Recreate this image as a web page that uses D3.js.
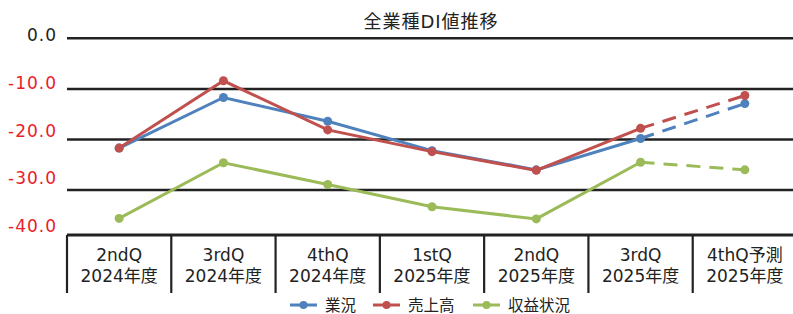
<!DOCTYPE html>
<html>
<head>
<meta charset="utf-8">
<script src="https://cdn.jsdelivr.net/npm/d3@7"></script>
<style>
  body { margin: 0; background: #fff; }
  svg { display: block; font-family: "DejaVu Sans", "Noto Sans CJK JP", sans-serif; }
</style>
</head>
<body>
<div id="chart"></div>
<script>
// data
const quarters = ["2ndQ", "3rdQ", "4thQ", "1stQ", "2ndQ", "3rdQ", "4thQ予測"];
const years = ["2024年度", "2024年度", "2024年度", "2025年度", "2025年度", "2025年度", "2025年度"];
const seriesNames = ["業況", "売上高", "収益状況"];
const gyokyo = [-21.7, -11.7, -16.4, -22.2, -26.0, -19.8, -12.9];
const uriage = [-21.7, -8.4, -18.1, -22.4, -26.1, -17.8, -11.3];
const shueki = [-35.6, -24.6, -28.9, -33.3, -35.7, -24.5, -26.0];
const yTicks = [0, -10, -20, -30, -40];
const colors = ["#4f81bd", "#c0504d", "#9bbb59"];

const svgWidth = 793, svgHeight = 314;
const svg = d3.select("#chart").append("svg")
  .attr("width", svgWidth)
  .attr("height", svgHeight);

const keys = quarters.map((q, i) => i);
const x = d3.scaleBand().domain(keys).range([67, 797]);
const y = d3.scaleLinear().domain([0, -40]).range([38.3, 240.7]);
// tick labels sit a bit off the gridlines in the original
const yLabel = d3.scaleLinear().domain([0, -40]).range([41, 232]);

// title
svg.append("text")
  .attr("x", 431).attr("y", 28)
  .attr("text-anchor", "middle")
  .attr("font-size", 18)
  .attr("letter-spacing", 1)
  .attr("fill", "#222")
  .text("全業種DI値推移");

// gridlines
svg.append("g").selectAll("line")
  .data(yTicks.slice(0, 4))
  .join("line")
  .attr("x1", 67).attr("x2", svgWidth)
  .attr("y1", d => y(d)).attr("y2", d => y(d))
  .attr("stroke", "#222")
  .attr("stroke-width", 2.5);

// y labels
svg.append("g").selectAll("text")
  .data(yTicks)
  .join("text")
  .attr("x", 57)
  .attr("y", d => yLabel(d))
  .attr("text-anchor", "end")
  .attr("font-size", 17)
  .attr("letter-spacing", 1)
  .attr("fill", d => d === 0 ? "#222" : "#e8202a")
  .text(d => d.toFixed(1));

// category table
const tableTop = 235, tableBottom = 293;
svg.append("line")
  .attr("x1", 67).attr("x2", svgWidth)
  .attr("y1", tableTop).attr("y2", tableTop)
  .attr("stroke", "#222").attr("stroke-width", 3);
svg.append("g").selectAll("line")
  .data(keys)
  .join("line")
  .attr("x1", d => x(d)).attr("x2", d => x(d))
  .attr("y1", tableTop).attr("y2", tableBottom)
  .attr("stroke", "#222").attr("stroke-width", 2.2);

const catG = svg.append("g")
  .attr("font-size", 17)
  .attr("text-anchor", "middle")
  .attr("fill", "#222");
catG.selectAll("text.q")
  .data(keys)
  .join("text")
  .attr("class", "q")
  .attr("x", d => x(d) + x.bandwidth() / 2)
  .attr("y", 261)
  .text(d => quarters[d]);
catG.selectAll("text.yr")
  .data(keys)
  .join("text")
  .attr("class", "yr")
  .attr("x", d => x(d) + x.bandwidth() / 2)
  .attr("y", 282)
  .text(d => years[d]);

// lines
const allSeries = [gyokyo, uriage, shueki];
const cx = i => x(i) + x.bandwidth() / 2;
const line = d3.line().x(d => cx(d.i)).y(d => y(d.v));

allSeries.forEach((vals, s) => {
  const pts = vals.map((v, i) => ({ i, v }));
  const g = svg.append("g");
  g.append("path")
    .attr("d", line(pts.slice(0, 6)))
    .attr("fill", "none")
    .attr("stroke", colors[s])
    .attr("stroke-width", 3);
  g.append("path")
    .attr("d", line(pts.slice(5)))
    .attr("fill", "none")
    .attr("stroke", colors[s])
    .attr("stroke-width", 3)
    .attr("stroke-dasharray", "14,9");
  g.selectAll("circle")
    .data(pts)
    .join("circle")
    .attr("cx", d => cx(d.i))
    .attr("cy", d => y(d.v))
    .attr("r", 4.5)
    .attr("fill", colors[s]);
});

// legend
const legendX = [290, 373, 473];
const legendY = 305;
const leg = svg.append("g").selectAll("g")
  .data(seriesNames)
  .join("g")
  .attr("transform", (d, i) => `translate(${legendX[i]}, ${legendY})`);
leg.append("line")
  .attr("x1", 0).attr("x2", 27)
  .attr("stroke", (d, i) => colors[i])
  .attr("stroke-width", 3);
leg.append("circle")
  .attr("cx", 13.5).attr("r", 4)
  .attr("fill", (d, i) => colors[i]);
leg.append("text")
  .attr("x", 35).attr("y", 5.5)
  .attr("font-size", 15.5)
  .attr("fill", "#222")
  .text(d => d);
</script>
</body>
</html>
